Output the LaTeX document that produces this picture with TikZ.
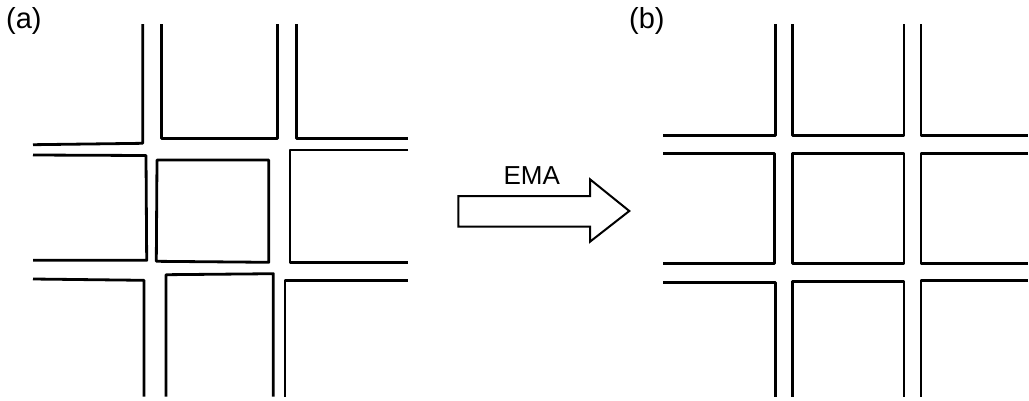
\documentclass[tikz,border=0pt]{standalone}
\usepackage{fontspec}
\setmainfont{Liberation Sans}
\begin{document}
\begin{tikzpicture}[x=1pt,y=-1pt,
  wall/.style={draw=black,line width=2.8pt,line join=round},
  lbl/.style={font=\fontsize{29}{33}\selectfont,inner sep=0pt,anchor=north west},
  arrowbox/.style={draw=black,line width=2pt,line join=miter,fill=white}]
\useasboundingbox (0,0) rectangle (1029,400);
% labels
\node[lbl] (la) at (6,7) {(a)};
\node[lbl] (lb) at (629,7) {(b)};
% panel (a)
\draw[wall] (142.7,24) -- (142.7,143.3) -- (33,144.7);
\draw[wall] (161.3,24) -- (161.3,138.3) -- (277.7,138.3) -- (277.7,24);
\draw[wall] (296.7,24) -- (296.7,138.3) -- (408,138.3);
\draw[wall] (33,155) -- (146,155.5) -- (146.7,260.3) -- (33,260.3);
\draw[wall] (157,160) -- (268.7,160) -- (268.7,262.3) -- (156.3,261.3) -- cycle;
\draw[wall] (408,150) -- (290,150) -- (290,262.3) -- (408,262.3);
\draw[wall] (33,279) -- (144,280.3) -- (144,396.7);
\draw[wall] (166,396.7) -- (166,274.7) -- (273.3,273.7) -- (273.3,396.7);
\draw[wall] (285,396.7) -- (285,280.3) -- (408,280.3);
% arrow
\draw[arrowbox] (458.3,196) -- (590,196) -- (590,179.3) -- (629.3,211) -- (590,241.7) -- (590,226.7) -- (458.3,226.7) -- cycle;
\node[font=\fontsize{26}{30}\selectfont,inner sep=0pt] (ema) at (531.7,176) {EMA};
% panel (b)
\draw[wall] (775.7,24) -- (775.7,135.3) -- (663.3,135.3);
\draw[wall] (792.3,24) -- (792.3,135.3) -- (904,135.3) -- (904,24);
\draw[wall] (921,24) -- (921,135.3) -- (1028,135.3);
\draw[wall] (663.3,153.3) -- (774.3,153.3) -- (774.3,263.3) -- (663.3,263.3);
\draw[wall] (792.3,153.3) rectangle (904,263.3);
\draw[wall] (1028,153.3) -- (921,153.3) -- (921,263.3) -- (1028,263.3);
\draw[wall] (663.3,282.7) -- (775.7,282.7) -- (775.7,396.7);
\draw[wall] (792.7,396.7) -- (792.7,281.3) -- (904,281.3) -- (904,396.7);
\draw[wall] (921,396.7) -- (921,280.3) -- (1028,280.3);
\end{tikzpicture}
\end{document}
